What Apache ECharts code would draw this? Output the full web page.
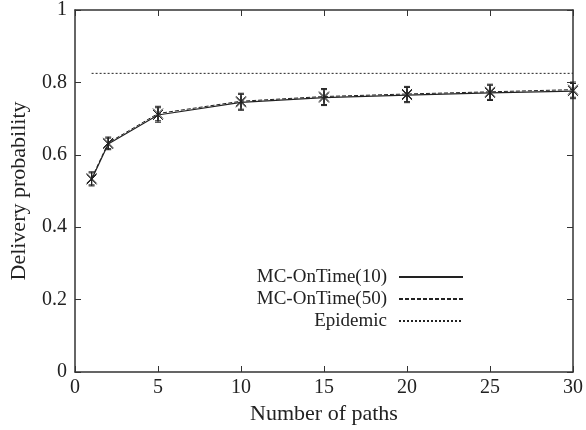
<!DOCTYPE html>
<html>
<head>
<meta charset="utf-8">
<script src="https://cdn.jsdelivr.net/npm/echarts@6/dist/echarts.min.js"></script>
<style>
  html, body { margin: 0; padding: 0; background: #fff; }
  #chart { width: 586px; height: 430px; }
</style>
</head>
<body>
<div id="chart"></div>
<script>
  // number of paths
  var paths = [1, 2, 5, 10, 15, 20, 25, 30];
  var mc10 = [0.532, 0.630, 0.710, 0.745, 0.758, 0.765, 0.771, 0.776];
  var mc50 = [0.535, 0.633, 0.714, 0.748, 0.761, 0.768, 0.774, 0.780];
  var err10 = [0.018, 0.016, 0.020, 0.022, 0.022, 0.021, 0.021, 0.021];
  var err50 = [0.018, 0.016, 0.020, 0.022, 0.022, 0.021, 0.021, 0.021];
  var epidemicX = [1, 30];
  var epidemic = [0.825, 0.825];
  var xTicks = [0, 5, 10, 15, 20, 25, 30];
  var yTicks = [0, 0.2, 0.4, 0.6, 0.8, 1];

  var font = '"Liberation Serif", "DejaVu Serif", serif';

  function pairs(xs, ys) {
    return xs.map(function (x, i) { return [x, ys[i]]; });
  }
  function errData(ys, es) {
    return paths.map(function (x, i) { return [x, ys[i], ys[i] - es[i], ys[i] + es[i]]; });
  }

  // error bar + asterisk marker
  function renderErr(params, api) {
    var c = api.coord([api.value(0), api.value(1)]);
    var lo = api.coord([api.value(0), api.value(2)]);
    var hi = api.coord([api.value(0), api.value(3)]);
    var cap = 3, s = 5;
    var st = { stroke: '#222', lineWidth: 1 };
    return {
      type: 'group',
      children: [
        { type: 'line', shape: { x1: c[0], y1: lo[1], x2: c[0], y2: hi[1] }, style: st },
        { type: 'line', shape: { x1: c[0] - cap, y1: lo[1], x2: c[0] + cap, y2: lo[1] }, style: st },
        { type: 'line', shape: { x1: c[0] - cap, y1: hi[1], x2: c[0] + cap, y2: hi[1] }, style: st },
        { type: 'line', shape: { x1: c[0] - s, y1: c[1] - s, x2: c[0] + s, y2: c[1] + s }, style: st },
        { type: 'line', shape: { x1: c[0] - s, y1: c[1] + s, x2: c[0] + s, y2: c[1] - s }, style: st },
        { type: 'line', shape: { x1: c[0], y1: c[1] - s - 1, x2: c[0], y2: c[1] + s + 1 }, style: st }
      ]
    };
  }

  function axisCommon() {
    return {
      axisLine: { show: true, onZero: false, lineStyle: { color: '#333', width: 1.5 } },
      axisTick: { show: true, inside: true, length: 6, lineStyle: { color: '#333' } },
      splitLine: { show: false }
    };
  }

  var chart = echarts.init(document.getElementById('chart'));
  chart.setOption({
    animation: false,
    backgroundColor: '#fff',
    textStyle: { fontFamily: font },
    grid: { left: 75, right: 9, top: 10, bottom: 58 },
    legend: {
      orient: 'vertical',
      right: 117,
      top: 262,
      align: 'right',
      itemWidth: 64,
      itemHeight: 10,
      itemGap: 2,
      itemStyle: { opacity: 0 },
      textStyle: { fontFamily: font, fontSize: 19, color: '#222', lineHeight: 20, padding: [0, 7, 0, 0] },
      data: ['MC-OnTime(10)', 'MC-OnTime(50)', 'Epidemic']
    },
    xAxis: [
      Object.assign(axisCommon(), {
        type: 'value', min: 0, max: 30, interval: 5,
        name: 'Number of paths', nameLocation: 'middle', nameGap: 22,
        nameTextStyle: { fontFamily: font, fontSize: 22, color: '#222' },
        axisLabel: { fontFamily: font, fontSize: 20, color: '#222', margin: 6,
          customValues: xTicks }
      }),
      Object.assign(axisCommon(), {
        type: 'value', min: 0, max: 30, interval: 5, position: 'top',
        axisLabel: { show: false }
      })
    ],
    yAxis: [
      Object.assign(axisCommon(), {
        type: 'value', min: 0, max: 1, interval: 0.2,
        name: 'Delivery probability', nameLocation: 'middle', nameGap: 45,
        nameTextStyle: { fontFamily: font, fontSize: 22, color: '#222' },
        axisLabel: { fontFamily: font, fontSize: 20, color: '#222', margin: 8,
          customValues: yTicks,
          formatter: function (v) { return String(Math.round(v * 10) / 10); } }
      }),
      Object.assign(axisCommon(), {
        type: 'value', min: 0, max: 1, interval: 0.2, position: 'right',
        axisLabel: { show: false }
      })
    ],
    series: [
      {
        name: 'MC-OnTime(10)', type: 'line', data: pairs(paths, mc10),
        symbol: 'none', lineStyle: { color: '#222', width: 1.2, type: 'solid' },
        itemStyle: { color: '#222' }
      },
      {
        name: 'MC-OnTime(50)', type: 'line', data: pairs(paths, mc50),
        symbol: 'none', lineStyle: { color: '#222', width: 1, type: [4, 2] },
        itemStyle: { color: '#222' }
      },
      {
        name: 'Epidemic', type: 'line', data: pairs(epidemicX, epidemic),
        symbol: 'none', lineStyle: { color: '#222', width: 1, type: [2, 2] },
        itemStyle: { color: '#222' }
      },
      {
        type: 'custom', renderItem: renderErr, data: errData(mc10, err10),
        encode: { x: 0, y: 1 }, z: 3
      },
      {
        type: 'custom', renderItem: renderErr, data: errData(mc50, err50),
        encode: { x: 0, y: 1 }, z: 3
      }
    ]
  });
</script>
</body>
</html>
